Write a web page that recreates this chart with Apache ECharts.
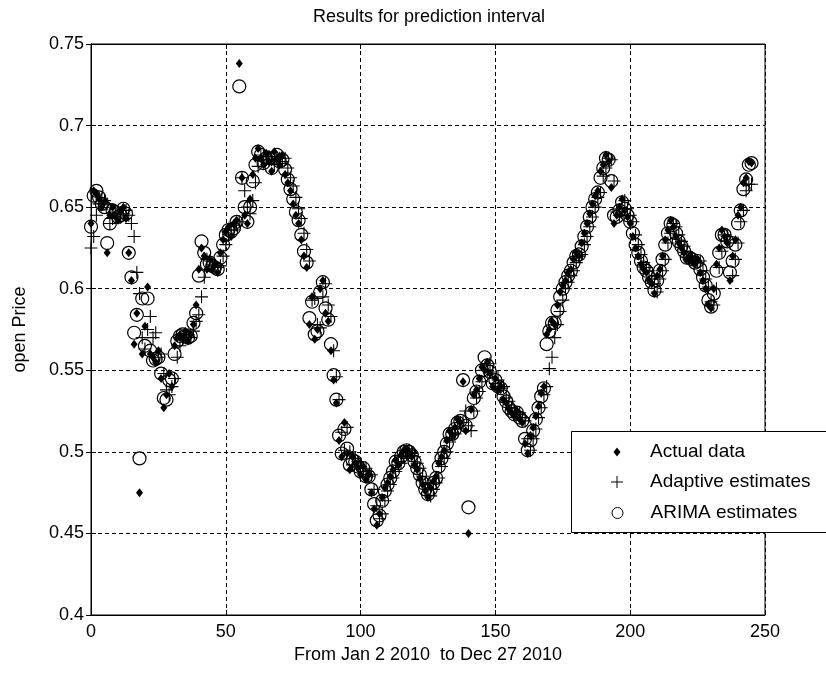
<!DOCTYPE html>
<html>
<head>
<meta charset="utf-8">
<script src="https://cdn.jsdelivr.net/npm/echarts@6/dist/echarts.min.js"></script>
<style>
  html, body { margin: 0; padding: 0; background: #fff; }
  #chart { width: 826px; height: 677px; }
</style>
</head>
<body>
<div id="chart"></div>
<script>
// values, one per trading day (index 0..245)
const actualData = [
  0.640, 0.660, 0.658, 0.655, 0.650, 0.653, 0.622, 0.645, 0.650, 0.645,
  0.642, 0.648, 0.650, 0.643, 0.622, 0.605, 0.566, 0.585, 0.475, 0.560,
  0.577, 0.601, 0.560, 0.558, 0.555, 0.562, 0.545, 0.527, 0.535, 0.548,
  0.540, 0.565, 0.570, 0.572, 0.570, 0.574, 0.568, 0.572, 0.578, 0.590,
  0.612, 0.625, 0.620, 0.612, 0.618, 0.612, 0.615, 0.610, 0.622, 0.630,
  0.635, 0.638, 0.632, 0.640, 0.642, 0.738, 0.668, 0.645, 0.640, 0.655,
  0.670, 0.680, 0.686, 0.680, 0.676, 0.683, 0.678, 0.672, 0.684, 0.680,
  0.676, 0.682, 0.670, 0.665, 0.660, 0.652, 0.645, 0.640, 0.630, 0.620,
  0.613, 0.578, 0.595, 0.569, 0.575, 0.600, 0.605, 0.585, 0.580, 0.562,
  0.544, 0.530, 0.507, 0.497, 0.518, 0.499, 0.489, 0.497, 0.493, 0.490,
  0.486, 0.491, 0.483, 0.486, 0.475, 0.465, 0.455, 0.462, 0.472, 0.478,
  0.481, 0.485, 0.489, 0.495, 0.492, 0.498, 0.501, 0.502, 0.499, 0.497,
  0.492, 0.489, 0.484, 0.480, 0.476, 0.472, 0.478, 0.482, 0.485, 0.493,
  0.497, 0.501, 0.507, 0.513, 0.510, 0.515, 0.520, 0.518, 0.543, 0.513,
  0.450, 0.526, 0.535, 0.538, 0.545, 0.552, 0.550, 0.555, 0.548, 0.540,
  0.545, 0.538, 0.540, 0.532, 0.530, 0.526, 0.524, 0.522, 0.525, 0.520,
  0.518, 0.505, 0.499, 0.510, 0.515, 0.522, 0.528, 0.536, 0.540, 0.572,
  0.575, 0.580, 0.578, 0.590, 0.598, 0.602, 0.605, 0.610, 0.612, 0.618,
  0.622, 0.620, 0.628, 0.634, 0.640, 0.646, 0.652, 0.657, 0.660, 0.672,
  0.676, 0.682, 0.678, 0.662, 0.640, 0.645, 0.650, 0.655, 0.648, 0.644,
  0.640, 0.632, 0.625, 0.620, 0.615, 0.612, 0.610, 0.605, 0.603, 0.597,
  0.608, 0.612, 0.620, 0.630, 0.636, 0.642, 0.638, 0.632, 0.628, 0.625,
  0.622, 0.618, 0.620, 0.617, 0.615, 0.618, 0.610, 0.605, 0.600, 0.590,
  0.588, 0.600, 0.615, 0.625, 0.636, 0.632, 0.628, 0.605, 0.620, 0.630,
  0.645, 0.650, 0.665, 0.668, 0.678, 0.677
];

const adaptiveData = [
  0.625, 0.632, 0.645, 0.652, 0.655, 0.654, 0.652, 0.640, 0.643, 0.647,
  0.646, 0.644, 0.646, 0.648, 0.645, 0.640, 0.632, 0.610, 0.597, 0.570,
  0.563, 0.575, 0.583, 0.570, 0.573, 0.558, 0.560, 0.548, 0.538, 0.535,
  0.540, 0.545, 0.558, 0.565, 0.569, 0.571, 0.572, 0.570, 0.574, 0.580,
  0.584, 0.595, 0.607, 0.618, 0.617, 0.615, 0.614, 0.613, 0.614, 0.620,
  0.627, 0.633, 0.636, 0.636, 0.639, 0.641, 0.668, 0.660, 0.650, 0.646,
  0.654, 0.665, 0.675, 0.682, 0.681, 0.679, 0.681, 0.679, 0.676, 0.680,
  0.680, 0.678, 0.680, 0.674, 0.668, 0.663, 0.656, 0.649, 0.643, 0.634,
  0.624, 0.617, 0.593, 0.594, 0.578, 0.576, 0.595, 0.603, 0.590, 0.583,
  0.562, 0.546, 0.532, 0.512, 0.501, 0.515, 0.500, 0.492, 0.496, 0.494,
  0.491, 0.488, 0.490, 0.485, 0.486, 0.477, 0.467, 0.459, 0.462, 0.470,
  0.476, 0.480, 0.484, 0.488, 0.494, 0.493, 0.497, 0.500, 0.501, 0.499,
  0.497, 0.493, 0.490, 0.485, 0.481, 0.477, 0.473, 0.477, 0.481, 0.484,
  0.491, 0.496, 0.500, 0.506, 0.512, 0.511, 0.514, 0.518, 0.518, 0.525,
  0.516, 0.513, 0.525, 0.533, 0.537, 0.543, 0.550, 0.550, 0.554, 0.549,
  0.542, 0.544, 0.539, 0.540, 0.533, 0.531, 0.527, 0.525, 0.523, 0.524,
  0.521, 0.519, 0.508, 0.501, 0.508, 0.514, 0.521, 0.527, 0.535, 0.540,
  0.551, 0.558, 0.570, 0.578, 0.586, 0.593, 0.600, 0.604, 0.608, 0.611,
  0.616, 0.620, 0.621, 0.627, 0.632, 0.638, 0.644, 0.650, 0.656, 0.659,
  0.669, 0.674, 0.680, 0.679, 0.666, 0.647, 0.645, 0.649, 0.654, 0.649,
  0.645, 0.641, 0.633, 0.627, 0.621, 0.616, 0.613, 0.611, 0.606, 0.603,
  0.598, 0.606, 0.611, 0.618, 0.628, 0.634, 0.640, 0.638, 0.633, 0.629,
  0.626, 0.622, 0.619, 0.619, 0.617, 0.616, 0.617, 0.611, 0.606, 0.601,
  0.592, 0.590, 0.600, 0.613, 0.623, 0.633, 0.632, 0.628, 0.608, 0.618,
  0.628, 0.641, 0.648, 0.660, 0.664, 0.664
];

const arimaData = [
  0.638, 0.657, 0.660, 0.656, 0.652, 0.650, 0.628, 0.640, 0.648, 0.647,
  0.644, 0.645, 0.649, 0.646, 0.622, 0.607, 0.573, 0.584, 0.496, 0.594,
  0.565, 0.594, 0.562, 0.556, 0.557, 0.558, 0.548, 0.533, 0.532, 0.544,
  0.545, 0.560, 0.568, 0.571, 0.572, 0.571, 0.570, 0.571, 0.579, 0.585,
  0.608, 0.629, 0.622, 0.615, 0.616, 0.614, 0.613, 0.612, 0.619, 0.627,
  0.633, 0.636, 0.635, 0.637, 0.641, 0.724, 0.668, 0.650, 0.641, 0.650,
  0.666, 0.676, 0.684, 0.682, 0.677, 0.680, 0.680, 0.674, 0.680, 0.682,
  0.678, 0.679, 0.673, 0.667, 0.661, 0.655, 0.647, 0.642, 0.633, 0.623,
  0.616, 0.582, 0.592, 0.572, 0.574, 0.598, 0.604, 0.588, 0.581, 0.566,
  0.547, 0.532, 0.510, 0.499, 0.514, 0.502, 0.492, 0.495, 0.494, 0.491,
  0.488, 0.490, 0.485, 0.485, 0.477, 0.468, 0.458, 0.461, 0.470, 0.476,
  0.480, 0.484, 0.488, 0.494, 0.493, 0.497, 0.500, 0.501, 0.500, 0.498,
  0.494, 0.490, 0.486, 0.481, 0.477, 0.474, 0.477, 0.481, 0.484, 0.491,
  0.496, 0.500, 0.505, 0.511, 0.511, 0.514, 0.518, 0.519, 0.544, 0.516,
  0.466, 0.524, 0.533, 0.537, 0.543, 0.550, 0.558, 0.553, 0.549, 0.542,
  0.544, 0.540, 0.539, 0.534, 0.531, 0.527, 0.525, 0.523, 0.524, 0.521,
  0.519, 0.508, 0.501, 0.507, 0.513, 0.520, 0.527, 0.534, 0.539, 0.566,
  0.574, 0.579, 0.579, 0.587, 0.595, 0.600, 0.604, 0.608, 0.611, 0.616,
  0.620, 0.621, 0.626, 0.632, 0.638, 0.644, 0.650, 0.655, 0.659, 0.668,
  0.674, 0.680, 0.679, 0.666, 0.645, 0.644, 0.648, 0.653, 0.649, 0.645,
  0.641, 0.634, 0.627, 0.622, 0.617, 0.613, 0.611, 0.607, 0.604, 0.599,
  0.605, 0.611, 0.618, 0.627, 0.634, 0.640, 0.639, 0.634, 0.629, 0.626,
  0.623, 0.619, 0.619, 0.618, 0.616, 0.617, 0.612, 0.607, 0.602, 0.593,
  0.589, 0.597, 0.611, 0.622, 0.633, 0.633, 0.629, 0.610, 0.617, 0.627,
  0.640, 0.648, 0.661, 0.667, 0.676, 0.677
];

const seriesNames = ['Actual data', 'Adaptive estimates', 'ARIMA estimates'];

const FONT = "'Liberation Sans', Arial, sans-serif";
const PLUS = 'path://M5.5,0h1v5.5h5.5v1h-5.5v5.5h-1v-5.5h-5.5v-1h5.5z';

function pairs(arr) {
  return arr.map((v, i) => [i, v]);
}

const chart = echarts.init(document.getElementById('chart'), null, { renderer: 'canvas' });

const dashed = { show: true, lineStyle: { color: '#000', type: [4, 3], width: 1 } };
const tickIn = { show: true, inside: true, length: 5, lineStyle: { color: '#000' } };

const option = {
  animation: false,
  backgroundColor: '#fff',
  title: {
    text: 'Results for prediction interval',
    left: 424, top: 3, textAlign: 'center',
    textStyle: { fontFamily: FONT, fontSize: 18, fontWeight: 'normal', color: '#000' }
  },
  grid: { left: 91, right: 61, top: 44, bottom: 62, show: true, borderColor: '#000', borderWidth: 1 },
  xAxis: [{
    type: 'value', min: 0, max: 250, interval: 50,
    name: 'From Jan 2 2010  to Dec 27 2010',
    nameLocation: 'middle', nameGap: 31,
    nameTextStyle: { fontFamily: FONT, fontSize: 18, color: '#000' },
    axisLine: { show: true, lineStyle: { color: '#000' } },
    axisTick: tickIn, splitLine: dashed,
    axisLabel: { fontFamily: FONT, fontSize: 18, color: '#000', margin: 8 }
  }, {
    type: 'value', min: 0, max: 250, interval: 50, position: 'top',
    axisLine: { show: true, lineStyle: { color: '#000' } },
    axisTick: tickIn, splitLine: { show: false }, axisLabel: { show: false }
  }],
  yAxis: [{
    type: 'value', min: 0.4, max: 0.75, interval: 0.05,
    name: 'open Price',
    nameLocation: 'middle', nameGap: 62, nameRotate: 90,
    nameTextStyle: { fontFamily: FONT, fontSize: 18, color: '#000' },
    axisLine: { show: true, lineStyle: { color: '#000' } },
    axisTick: tickIn, splitLine: dashed,
    axisLabel: {
      fontFamily: FONT, fontSize: 18, color: '#000', margin: 7,
      formatter: v => String(+v.toFixed(2))
    }
  }, {
    type: 'value', min: 0.4, max: 0.75, interval: 0.05, position: 'right',
    axisLine: { show: true, lineStyle: { color: '#000' } },
    axisTick: tickIn, splitLine: { show: false }, axisLabel: { show: false }
  }],
  graphic: [{
    type: 'rect', left: 571, top: 431, z: 100,
    shape: { width: 300, height: 101 },
    style: { fill: '#fff', stroke: '#000', lineWidth: 1 }
  }],
  legend: [
    { name: seriesNames[0], w: 7, h: 9, top: 442, icon: 'diamond' },
    { name: seriesNames[1], w: 12, h: 12, top: 472, icon: PLUS },
    { name: seriesNames[2], w: 11, h: 11, top: 503, icon: 'circle' }
  ].map((it, k) => ({
    data: [{ name: it.name, icon: it.icon,
      itemStyle: k === 2 ? { color: 'rgba(0,0,0,0)', borderColor: '#000', borderWidth: 1 }
                         : { color: '#000', borderWidth: 0 } }],
    left: 617 - it.w / 2, top: it.top, padding: 0, z: 101,
    itemWidth: it.w, itemHeight: it.h,
    selectedMode: false,
    textStyle: { fontFamily: FONT, fontSize: 19, color: '#000', lineHeight: 20,
      padding: [0, 0, 0, 650 - 622 - it.w / 2] }
  })),
  series: [{
    name: seriesNames[0], type: 'scatter', data: pairs(actualData),
    symbol: 'diamond', symbolSize: [7, 9],
    itemStyle: { color: '#000', opacity: 1 }
  }, {
    name: seriesNames[1], type: 'scatter', data: pairs(adaptiveData),
    symbol: PLUS, symbolSize: 13,
    itemStyle: { color: '#000', opacity: 1 }
  }, {
    name: seriesNames[2], type: 'scatter', data: pairs(arimaData),
    symbol: 'circle', symbolSize: 13,
    itemStyle: { color: 'rgba(0,0,0,0)', borderColor: '#000', borderWidth: 1.2, opacity: 1 }
  }]
};

chart.setOption(option);
</script>
</body>
</html>
